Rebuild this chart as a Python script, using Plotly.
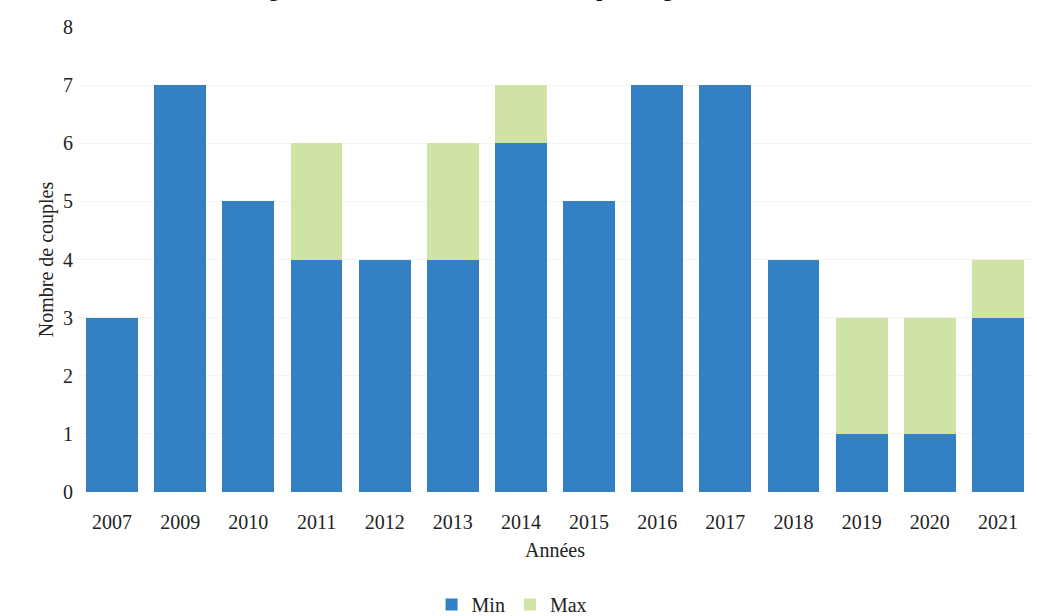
import plotly.graph_objects as go

years = ["2007", "2009", "2010", "2011", "2012", "2013", "2014",
         "2015", "2016", "2017", "2018", "2019", "2020", "2021"]
min_vals = [3, 7, 5, 4, 4, 4, 6, 5, 7, 7, 4, 1, 1, 3]
max_vals = [3, 7, 5, 6, 4, 6, 7, 5, 7, 7, 4, 3, 3, 4]
extra_vals = [mx - mn for mn, mx in zip(min_vals, max_vals)]
y_ticks = [0, 1, 2, 3, 4, 5, 6, 7, 8]

BLUE = "#3480c4"
GREEN = "#cfe3a4"
FONT = "Liberation Serif"

fig = go.Figure()
fig.add_trace(go.Bar(x=years, y=min_vals, name="Min", marker_color=BLUE,
                     marker_line_width=0))
fig.add_trace(go.Bar(x=years, y=extra_vals, name="Max", marker_color=GREEN,
                     marker_line_width=0))

fig.add_annotation(text="<b>Figure 5 : Évolution du nombre de couples de goéland brun</b>",
                   xref="paper", yref="paper", x=0.46, y=1.051,
                   xanchor="center", yanchor="bottom", showarrow=False,
                   font=dict(family=FONT, size=21, color="#111111"))

fig.update_layout(
    barmode="stack",
    bargap=0.24,
    width=1037, height=616,
    paper_bgcolor="white", plot_bgcolor="white",
    margin=dict(l=78, r=5, t=27, b=124, autoexpand=False),
    font=dict(family=FONT, size=20, color="#222222"),
    showlegend=True,
    legend=dict(orientation="h", x=0.455, xanchor="center", y=-0.2, yanchor="top",
                font=dict(family=FONT, size=20), traceorder="normal"),
    xaxis=dict(title=dict(text="Années", font=dict(family=FONT, size=20), standoff=10),
               showgrid=False, showline=False, ticks="", tickfont=dict(size=20),
               ticklabelstandoff=16, automargin=False),
    yaxis=dict(title=dict(text="Nombre de couples", font=dict(family=FONT, size=20), standoff=4),
               range=[0, 8], tickvals=y_ticks, showgrid=True, gridcolor="#f3f3f3",
               gridwidth=1, zeroline=False, showline=False, ticks="",
               tickfont=dict(size=20), ticklabelstandoff=4, automargin=False),
)

fig.write_html("out.html", config={"displayModeBar": False},
               post_script="document.body.style.margin='0';")
